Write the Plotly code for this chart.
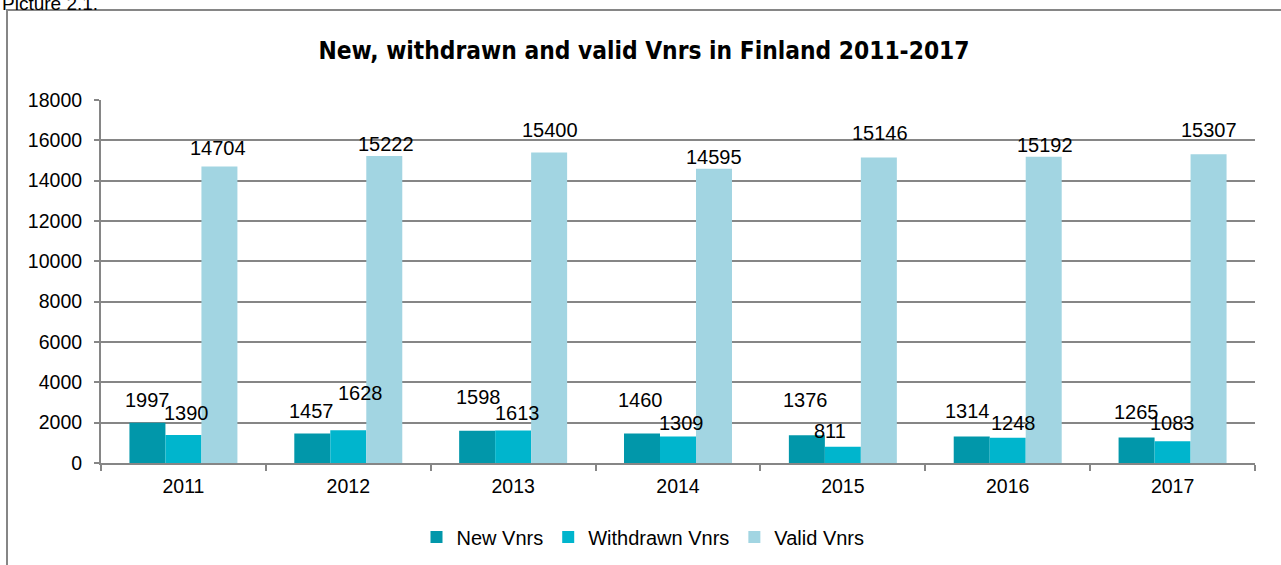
import plotly.graph_objects as go

years = ["2011", "2012", "2013", "2014", "2015", "2016", "2017"]
new_vnrs = [1997, 1457, 1598, 1460, 1376, 1314, 1265]
withdrawn_vnrs = [1390, 1628, 1613, 1309, 811, 1248, 1083]
valid_vnrs = [14704, 15222, 15400, 14595, 15146, 15192, 15307]

series = [
    ("New Vnrs", new_vnrs, "#0197AA"),
    ("Withdrawn Vnrs", withdrawn_vnrs, "#00B5CD"),
    ("Valid Vnrs", valid_vnrs, "#A2D5E2"),
]

# manual label placement (pixels): lift of label centre above bar top, horizontal nudge
label_dy = [
    [23, 23, 34, 34, 35, 26, 25],
    [22, 37, 17, 14, 16, 15, 18],
    [18, 12, 22, 12, 25, 12, 24],
]
label_dx = [
    [0, -1, 1, -2, -1, -4, 0],
    [3, 12, 4, 3, -13, 6, 0],
    [-1, 2, 1, 0, 1, 1, 0],
]

W, H = 1281, 565
L, R, T, B = 101, 26, 100, 102
pw, ph = W - L - R, H - T - B

fig = go.Figure()
for name, vals, col in series:
    fig.add_trace(go.Bar(x=years, y=vals, name=name, marker=dict(color=col, line=dict(width=0)),
                         showlegend=True))

# data labels (annotation x uses the category index on a category axis)
bar_w = 36
offsets = [-bar_w, 0, bar_w]
ann = []
for s, ((name, vals, col), off) in enumerate(zip(series, offsets)):
    for i, v in enumerate(vals):
        ann.append(dict(x=i, y=v, xref="x", yref="y", text=str(v), showarrow=False,
                        xanchor="center", yanchor="middle",
                        xshift=off + label_dx[s][i], yshift=label_dy[s][i],
                        font=dict(family="Liberation Sans, Arial", size=20, color="#000000")))

ann.append(dict(x=(0 - L) / pw, y=1 + (T - 16) / ph, xref="paper", yref="paper",
                text="Picture 2.1.", showarrow=False, xanchor="left", yanchor="bottom",
                font=dict(family="Liberation Sans, Arial", size=19, color="#000000")))

fig.update_layout(
    width=W, height=H,
    margin=dict(l=L, r=R, t=T, b=B, autoexpand=False),
    paper_bgcolor="white", plot_bgcolor="white",
    barmode="group", bargap=0.345, bargroupgap=0,
    title=dict(text="<b>New, withdrawn and valid Vnrs in Finland 2011-2017</b>",
               x=(644 - L) / pw, xref="paper", xanchor="center",
               y=1 - 50 / H, yref="container", yanchor="middle",
               font=dict(family="Liberation Sans Narrow, Arial Narrow, DejaVu Sans Condensed", size=24.3, color="#000000")),
    font=dict(family="Liberation Sans, Arial", size=19, color="#000000"),
    legend=dict(orientation="h", x=(643 - L) / pw, xanchor="center", y=(463 - 537) / ph, yanchor="middle",
                font=dict(size=20), itemwidth=30, traceorder="normal"),
    annotations=ann,
    shapes=[dict(type="rect", xref="paper", yref="paper",
                 x0=(7 - L) / pw, x1=1.2, y0=-0.6, y1=1 + (T - 10) / ph,
                 line=dict(color="#868686", width=2), fillcolor="rgba(0,0,0,0)", layer="below")],
)

fig.update_xaxes(type="category", range=[-0.5, 6.5], autorange=False, showline=True, linecolor="#868686",
                 linewidth=2, ticks="outside", tickson="boundaries", ticklen=6, tickcolor="#868686",
                 tickwidth=2, showgrid=False, tickfont=dict(size=19.5), ticklabelstandoff=5)
fig.update_yaxes(range=[0, 18000], autorange=False, dtick=2000, tickformat="d", showline=True,
                 linecolor="#868686", linewidth=2, ticks="outside", ticklen=5, tickcolor="#868686",
                 tickwidth=2, showgrid=True, gridcolor="#868686", gridwidth=1.5, zeroline=False,
                 tickfont=dict(size=19.5), ticklabelstandoff=8)

fig.write_html("out.html", config={"displayModeBar": False},
               post_script="document.body.style.margin='0';")
